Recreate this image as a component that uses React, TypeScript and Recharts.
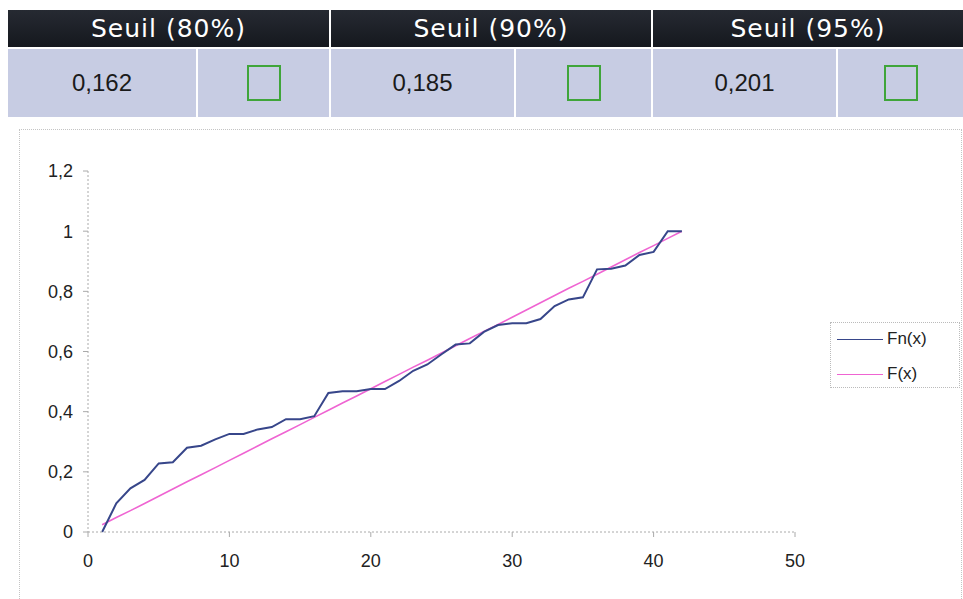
import React from 'react';
import { LineChart, Line, XAxis, YAxis } from 'recharts';

// sample index (1..42)
const xs = [
  1, 2, 3, 4, 5, 6, 7, 8, 9, 10, 11, 12, 13, 14, 15, 16, 17, 18, 19, 20, 21,
  22, 23, 24, 25, 26, 27, 28, 29, 30, 31, 32, 33, 34, 35, 36, 37, 38, 39, 40, 41, 42,
];

// empirical distribution
const fnValues = [
  0, 0.095, 0.145, 0.173, 0.228, 0.232, 0.28, 0.287, 0.308, 0.326, 0.326,
  0.341, 0.349, 0.375, 0.375, 0.385, 0.462, 0.468, 0.468, 0.475, 0.475,
  0.502, 0.536, 0.557, 0.591, 0.623, 0.627, 0.665, 0.688, 0.694, 0.694,
  0.708, 0.751, 0.773, 0.78, 0.873, 0.875, 0.886, 0.921, 0.931, 1, 1,
];

// theoretical distribution
const fValues = [
  0.024, 0.048, 0.071, 0.095, 0.119, 0.143, 0.167, 0.19, 0.214, 0.238, 0.262,
  0.286, 0.31, 0.333, 0.357, 0.381, 0.405, 0.429, 0.452, 0.476, 0.5,
  0.524, 0.548, 0.571, 0.595, 0.619, 0.643, 0.667, 0.69, 0.714, 0.738,
  0.762, 0.786, 0.81, 0.833, 0.857, 0.881, 0.905, 0.929, 0.952, 0.976, 1,
];

const xTicks = [0, 10, 20, 30, 40, 50];
const yTicks = [0, 0.2, 0.4, 0.6, 0.8, 1, 1.2];

const thresholds = ['Seuil (80%)', 'Seuil (90%)', 'Seuil (95%)'];
const thresholdValues = ['0,162', '0,185', '0,201'];

const data = xs.map((x, i) => ({ x, fn: fnValues[i], f: fValues[i] }));

const FONT = '"Liberation Sans", Arial, sans-serif';
const FN_COLOR = '#37468a';
const F_COLOR = '#ef64d2';
const CELL_BG = '#c7cce3';

// table geometry: [header left, header right, value cell right]
const cols = [
  [8, 329, 196],
  [331, 651, 514],
  [653, 963, 836],
];

const ThresholdTable = () => (
  <>
    {cols.map(([l, r, mid], i) => (
      <React.Fragment key={i}>
        <div
          style={{
            position: 'absolute', left: l, top: 10, width: r - l, height: 37,
            background: 'linear-gradient(#262a32, #15181e)', color: '#fff',
            fontFamily: '"DejaVu Sans", Verdana, sans-serif', fontSize: 25, letterSpacing: 1,
            display: 'flex', alignItems: 'center', justifyContent: 'center',
          }}
        >
          {thresholds[i]}
        </div>
        <div
          style={{
            position: 'absolute', left: l, top: 49, width: mid - l, height: 68,
            background: CELL_BG, color: '#1a1a1a', fontFamily: FONT, fontSize: 24,
            display: 'flex', alignItems: 'center', justifyContent: 'center',
          }}
        >
          {thresholdValues[i]}
        </div>
        <div
          style={{
            position: 'absolute', left: mid + 2, top: 49, width: r - mid - 2, height: 68,
            background: CELL_BG, display: 'flex', alignItems: 'center', justifyContent: 'center',
          }}
        >
          <div style={{ width: 30, height: 32, border: '2px solid #3fa53a' }} />
        </div>
      </React.Fragment>
    ))}
  </>
);

const legendItems = [
  { label: 'Fn(x)', color: FN_COLOR },
  { label: 'F(x)', color: F_COLOR },
];

const LegendBox = () => (
  <div
    style={{
      position: 'absolute', left: 830, top: 322, width: 130, height: 66,
      border: '1px dotted #bbb', background: '#fff', boxSizing: 'border-box',
      fontFamily: FONT, fontSize: 17, color: '#222', paddingTop: 2,
    }}
  >
    {legendItems.map((it) => (
      <div key={it.label} style={{ display: 'flex', alignItems: 'center', height: 28, marginBottom: 7 }}>
        <div style={{ width: 46, height: 0, borderTop: `1.5px solid ${it.color}`, marginLeft: 6, marginRight: 4 }} />
        <span>{it.label}</span>
      </div>
    ))}
  </div>
);

const fmt = (v: number) => String(v).replace('.', ',');

export default function App() {
  return (
    <div style={{ position: 'absolute', left: 0, top: 0, width: 963, height: 599, background: '#fff', overflow: 'hidden' }}>
      <ThresholdTable />
      <div
        style={{
          position: 'absolute', left: 19, top: 129, width: 941, height: 480,
          border: '1px dotted #c4c4c4',
        }}
      />
      <div style={{ position: 'absolute', left: 0, top: 0 }}>
        <LineChart width={963} height={599} data={data} margin={{ top: 171, right: 168, bottom: 27, left: 28 }}>
          <XAxis
            dataKey="x"
            type="number"
            domain={[0, 50]}
            ticks={xTicks}
            axisLine={{ stroke: '#aaa', strokeDasharray: '2 2' }}
            tickLine={{ stroke: '#aaa' }}
            tickSize={5}
            tickMargin={17}
            height={40}
            tick={{ fill: '#222', fontSize: 18, fontFamily: FONT }}
          />
          <YAxis
            type="number"
            domain={[0, 1.2]}
            ticks={yTicks}
            tickFormatter={fmt}
            axisLine={{ stroke: '#aaa', strokeDasharray: '2 2' }}
            tickLine={{ stroke: '#aaa' }}
            tickSize={5}
            tickMargin={10}
            width={60}
            tick={{ fill: '#222', fontSize: 18, fontFamily: FONT }}
          />
          <Line
            type="linear"
            dataKey="f"
            name="F(x)"
            stroke={F_COLOR}
            strokeWidth={1.6}
            dot={false}
            isAnimationActive={false}
          />
          <Line
            type="linear"
            dataKey="fn"
            name="Fn(x)"
            stroke={FN_COLOR}
            strokeWidth={2}
            dot={false}
            isAnimationActive={false}
          />
        </LineChart>
      </div>
      <LegendBox />
    </div>
  );
}
